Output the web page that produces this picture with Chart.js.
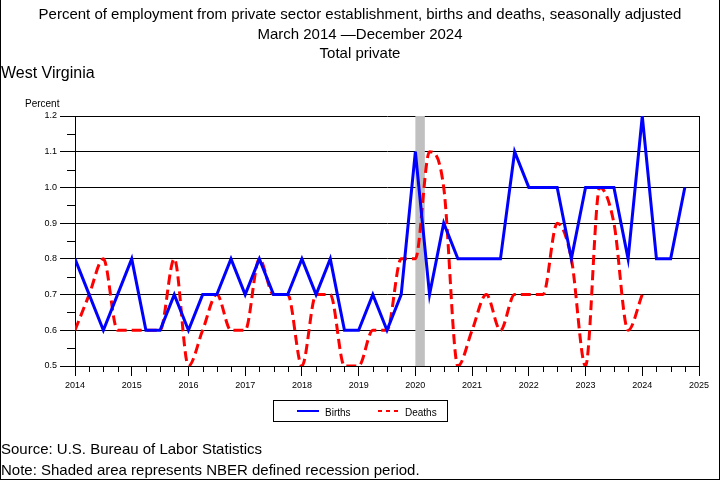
<!DOCTYPE html>
<html>
<head>
<meta charset="utf-8">
<title>West Virginia - births and deaths</title>
<script src="https://cdn.jsdelivr.net/npm/chart.js@4.4.1/dist/chart.umd.min.js"></script>
<style>
body { margin: 0; background: #fff; }
#frame { position: relative; width: 720px; height: 480px; overflow: hidden; background: #fff;
  font-family: 'Liberation Sans', Arial, sans-serif; color: #000; }
#myChart { position: absolute; left: 0; top: 0; }
#edge { position: absolute; left: 0; top: 0; width: 720px; height: 480px; box-sizing: border-box;
  border: 1px solid #000; border-top: none; pointer-events: none; }
.txt { position: absolute; white-space: nowrap; line-height: 1; }
.center { left: 0; width: 720px; text-align: center; }
#legend { position: absolute; left: 273px; top: 400px; width: 173px; height: 20px; border: 1px solid #000; }
.sample { position: absolute; top: 9px; width: 22px; height: 2px; }
</style>
</head>
<body>
<div id="frame">
  <canvas id="myChart" width="720" height="480"></canvas>
  <div class="txt center" style="top:6px;font-size:15px;">Percent of employment from private sector establishment, births and deaths, seasonally adjusted</div>
  <div class="txt center" style="top:26px;font-size:15px;">March 2014 &#8212;December 2024</div>
  <div class="txt center" style="top:45px;font-size:15px;">Total private</div>
  <div class="txt" style="left:1px;top:65px;font-size:16px;">West Virginia</div>
  <div class="txt" style="left:25px;top:99px;font-size:10px;">Percent</div>
  <div id="legend">
    <div class="sample" style="left:23px;background:#0000ff;"></div>
    <div class="txt" style="left:51px;top:7px;font-size:10px;">Births</div>
    <div class="sample" style="left:104px;width:20px;background:repeating-linear-gradient(to right,#ff0000 0 4px,transparent 4px 8px);"></div>
    <div class="txt" style="left:131px;top:7px;font-size:10px;">Deaths</div>
  </div>
  <div class="txt" style="left:1px;top:441px;font-size:15px;">Source: U.S. Bureau of Labor Statistics</div>
  <div class="txt" style="left:1px;top:462px;font-size:15px;">Note: Shaded area represents NBER defined recession period.</div>
  <div id="edge"></div>
</div>
<script>
// quarters: March, June, September, December of each year
var years = [2014, 2015, 2016, 2017, 2018, 2019, 2020, 2021, 2022, 2023, 2024];
var quarterOffsets = [0, 0.25, 0.5, 0.75];

var births = [
  0.8, 0.7, 0.6, 0.7,
  0.8, 0.6, 0.6, 0.7,
  0.6, 0.7, 0.7, 0.8,
  0.7, 0.8, 0.7, 0.7,
  0.8, 0.7, 0.8, 0.6,
  0.6, 0.7, 0.6, 0.7,
  1.1, 0.7, 0.9, 0.8,
  0.8, 0.8, 0.8, 1.1,
  1.0, 1.0, 1.0, 0.8,
  1.0, 1.0, 1.0, 0.8,
  1.2, 0.8, 0.8, 1.0
];
var deaths = [
  0.6, 0.7, 0.8, 0.6,
  0.6, 0.6, 0.6, 0.8,
  0.5, 0.6, 0.7, 0.6,
  0.6, 0.8, 0.7, 0.7,
  0.5, 0.7, 0.7, 0.5,
  0.5, 0.6, 0.6, 0.8,
  0.8, 1.1, 1.0, 0.5,
  0.6, 0.7, 0.6, 0.7,
  0.7, 0.7, 0.9, 0.8,
  0.5, 1.0, 0.9, 0.6,
  0.7
];

var xTicks = [2014, 2015, 2016, 2017, 2018, 2019, 2020, 2021, 2022, 2023, 2024, 2025];
var yTicks = [0.5, 0.6, 0.7, 0.8, 0.9, 1.0, 1.1, 1.2];
var recession = [2020.0, 2020.167];

var periods = [];
years.forEach(function(yr) {
  quarterOffsets.forEach(function(q) { periods.push(yr + q); });
});

function toPoints(values) {
  return values.map(function(v, i) { return { x: periods[i], y: v }; });
}

// recession shading, right border and minor ticks
var decor = {
  id: 'decor',
  beforeDatasetsDraw: function(chart) {
    var ctx = chart.ctx, a = chart.chartArea, x = chart.scales.x, y = chart.scales.y;
    ctx.save();
    var x0 = x.getPixelForValue(recession[0]);
    var x1 = x.getPixelForValue(recession[1]);
    ctx.fillStyle = '#c0c0c0';
    ctx.fillRect(x0, a.top, x1 - x0, a.bottom - a.top);

    ctx.strokeStyle = '#000';
    ctx.lineWidth = 1;
    ctx.beginPath();
    var rx = Math.round(a.right) + 0.5;
    ctx.moveTo(rx, a.top);
    ctx.lineTo(rx, a.bottom);
    for (var i = 0; i < yTicks.length - 1; i++) {
      var py = Math.round(y.getPixelForValue((yTicks[i] + yTicks[i + 1]) / 2)) + 0.5;
      ctx.moveTo(a.left - 8, py);
      ctx.lineTo(a.left, py);
    }
    periods.forEach(function(p) {
      if (p % 1 === 0) return;
      var px = Math.round(x.getPixelForValue(p)) + 0.5;
      ctx.moveTo(px, a.bottom);
      ctx.lineTo(px, a.bottom + 6);
    });
    ctx.stroke();
    ctx.restore();
  }
};

Chart.defaults.font.family = "'Liberation Sans', Arial, sans-serif";
Chart.defaults.color = '#000';

var ctx = document.getElementById('myChart');
var myChart = new Chart(ctx, {
  type: 'line',
  data: {
    datasets: [
      {
        label: 'Births',
        data: toPoints(births),
        borderColor: '#0000ff',
        borderWidth: 3,
        pointRadius: 0,
        tension: 0
      },
      {
        label: 'Deaths',
        data: toPoints(deaths),
        borderColor: '#ff0000',
        borderWidth: 3,
        borderDash: [10, 5],
        pointRadius: 0,
        cubicInterpolationMode: 'monotone'
      }
    ]
  },
  options: {
    responsive: false,
    devicePixelRatio: 1,
    animation: false,
    layout: { padding: { left: 0, right: 21, top: 116, bottom: 84 } },
    plugins: {
      legend: { display: false },
      tooltip: { enabled: false }
    },
    scales: {
      x: {
        type: 'linear',
        min: 2014,
        max: 2025,
        afterBuildTicks: function(scale) {
          scale.ticks = xTicks.map(function(v) { return { value: v }; });
        },
        afterFit: function(scale) { scale.height = 30; },
        grid: { drawOnChartArea: false, color: '#000', tickLength: 10 },
        border: { color: '#000', width: 1 },
        ticks: {
          font: { size: 9 },
          padding: 4,
          maxRotation: 0,
          callback: function(v) { return String(v); }
        }
      },
      y: {
        min: 0.5,
        max: 1.2,
        afterBuildTicks: function(scale) {
          scale.ticks = yTicks.map(function(v) { return { value: v }; });
        },
        afterFit: function(scale) { scale.width = 75; },
        grid: { color: '#000', tickLength: 15 },
        border: { color: '#000', width: 1 },
        ticks: {
          font: { size: 9 },
          padding: 3,
          callback: function(v) { return v.toFixed(1); }
        }
      }
    }
  },
  plugins: [decor]
});
</script>
</body>
</html>
